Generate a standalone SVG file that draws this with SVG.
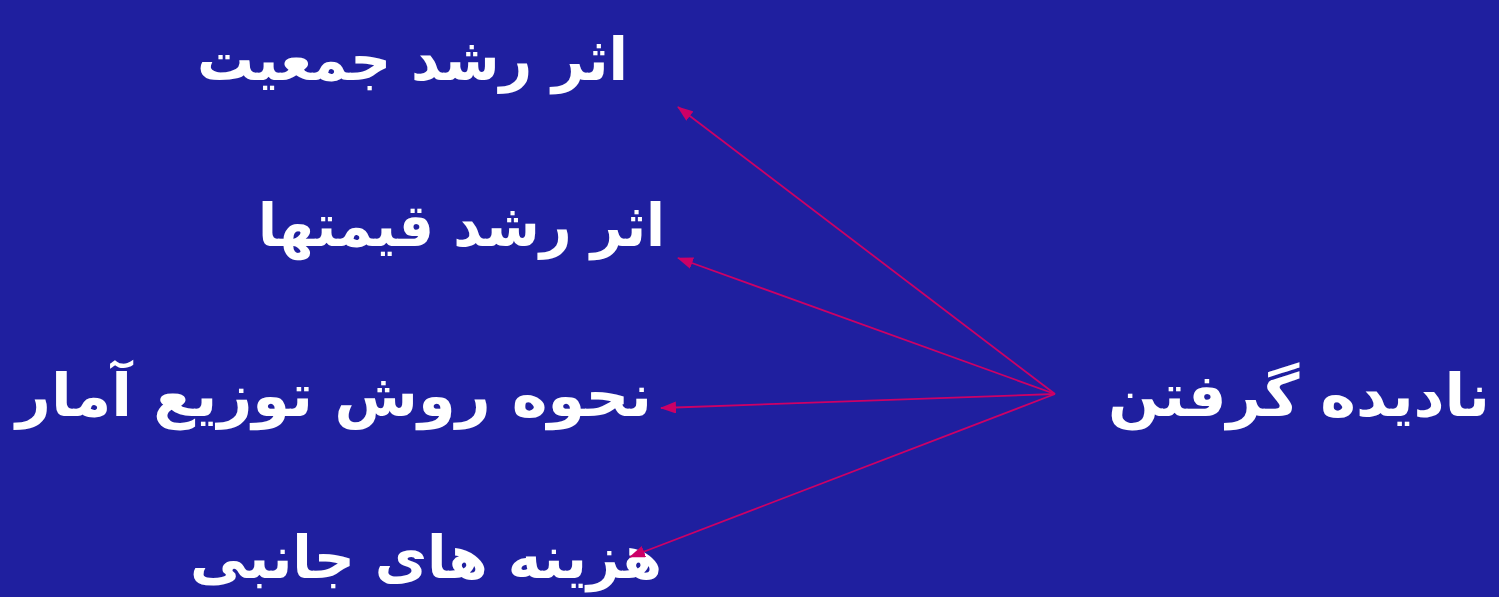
<svg xmlns="http://www.w3.org/2000/svg" width="1499" height="597" viewBox="0 0 1499 597">
<defs>
<style>
.t{font-family:"DejaVu Sans","Noto Sans",sans-serif;font-weight:bold;font-size:59px;fill:#ffffff;text-anchor:end}
.c{stroke:#cc0066;stroke-width:1.8;fill:none;marker-end:url(#ah)}
</style>
<marker id="ah" viewBox="0 0 16 12" refX="15" refY="6" markerWidth="16" markerHeight="12" markerUnits="userSpaceOnUse" orient="auto">
<path d="M0,0 L16,6 L0,12 z" fill="#cc0066"/>
</marker>
</defs>
<rect width="1499" height="597" fill="#1f1f9f"/>
<g id="n1"><text class="t" x="628" y="80" textLength="431" lengthAdjust="spacingAndGlyphs">اثر رشد جمعیت</text></g>
<g id="n2"><text class="t" x="665" y="246" textLength="407" lengthAdjust="spacingAndGlyphs">اثر رشد قیمتها</text></g>
<g id="n3"><text class="t" x="652" y="416" textLength="636" lengthAdjust="spacingAndGlyphs">نحوه روش توزیع آمار</text></g>
<g id="n4"><text class="t" x="662" y="578" textLength="472" lengthAdjust="spacingAndGlyphs">هزینه های جانبی</text></g>
<g id="n0"><text class="t" x="1490" y="416" textLength="382" lengthAdjust="spacingAndGlyphs">نادیده گرفتن</text></g>
<g id="connectors">
<line class="c" x1="1055" y1="394" x2="678" y2="107"/>
<line class="c" x1="1055" y1="394" x2="678" y2="258"/>
<line class="c" x1="1055" y1="394" x2="661" y2="408"/>
<line class="c" x1="1055" y1="394" x2="630" y2="557"/>
</g>
</svg>
